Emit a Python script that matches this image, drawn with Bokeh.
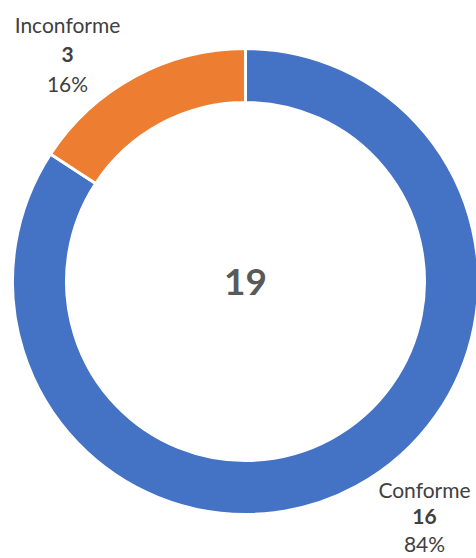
import math
from bokeh.plotting import figure
from bokeh.models import Range1d
from bokeh.core.properties import value
from bokeh.embed import file_html
from bokeh.resources import INLINE

# ---- data ----
categories = ["Conforme", "Inconforme"]
counts = [16, 3]
colors = ["#4472C4", "#ED7D31"]

total = sum(counts)
percents = [f"{round(100 * c / total)}%" for c in counts]

# ---- layout (pixel space; y measured from top) ----
W, H = 476, 558
cx, cy_pix = 245, 281
r_out, r_in = 233, 179

def Y(pix):
    return H - pix

p = figure(width=W, height=H, output_backend="svg", toolbar_location=None,
           x_range=Range1d(0, W), y_range=Range1d(0, H),
           min_border=0, outline_line_color=None)
p.axis.visible = False
p.grid.visible = False
p.background_fill_color = "white"
p.border_fill_color = "white"

# angles: start at 12 o'clock; Conforme runs clockwise, Inconforme counter-clockwise
top = math.pi / 2
fracs = [c / total for c in counts]
inc_end = top + fracs[1] * 2 * math.pi
starts = [inc_end, top]
ends = [top + 2 * math.pi, inc_end]

p.annular_wedge(x=[cx] * 2, y=[Y(cy_pix)] * 2, inner_radius=r_in, outer_radius=r_out,
                start_angle=starts, end_angle=ends, fill_color=colors,
                line_color="white", line_width=3)

# centre total
p.text(x=[cx], y=[Y(cy_pix)], text=[str(total)], text_font=value("Lato"),
       text_font_size="37px", text_font_style="bold", text_color="#595959",
       text_align="center", text_baseline="middle")

# labels
label_pos = {"Conforme": (424, [489, 516, 543]), "Inconforme": (67, [24, 54, 83])}
for cat, cnt, pct in zip(categories, counts, percents):
    lx, ys = label_pos[cat]
    p.text(x=[lx], y=[Y(ys[0])], text=[cat], text_font=value("Lato"),
           text_font_size="21px", text_color="#404040",
           text_align="center", text_baseline="middle")
    p.text(x=[lx], y=[Y(ys[1])], text=[str(cnt)], text_font=value("Lato"),
           text_font_size="21px", text_font_style="bold", text_color="#404040",
           text_align="center", text_baseline="middle")
    p.text(x=[lx], y=[Y(ys[2])], text=[pct], text_font=value("Lato"),
           text_font_size="21px", text_color="#404040",
           text_align="center", text_baseline="middle")

open("out.html", "w").write(file_html(p, INLINE))
